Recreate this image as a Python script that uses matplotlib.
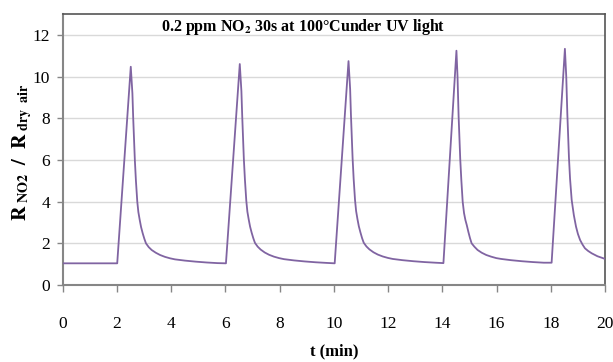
import matplotlib
matplotlib.use("Agg")
import matplotlib.pyplot as plt

plt.rcParams["font.family"] = ["Liberation Serif", "DejaVu Serif"]
plt.rcParams["mathtext.fontset"] = "stix"

# Five NO2 exposure cycles (gas on at ~2, 6, 10, 14, 18 min), then recovery in dry air
t_cycle1 = [0.00, 2.01, 2.51, 2.57, 2.60, 2.66, 2.70, 2.75, 2.79, 2.84, 2.89, 2.95, 3.01, 3.07,
            3.17, 3.28, 3.43, 3.59, 3.77, 3.96, 4.14, 4.51, 4.91, 5.31, 5.71]
r_cycle1 = [1.04, 1.04, 10.47, 9.20, 8.00, 6.00, 5.00, 4.00, 3.50, 3.12, 2.78, 2.48, 2.22, 2.00,
            1.82, 1.68, 1.55, 1.44, 1.35, 1.28, 1.23, 1.17, 1.12, 1.08, 1.05]

t_cycle2 = [6.02, 6.53, 6.59, 6.62, 6.68, 6.72, 6.77, 6.81, 6.86, 6.91, 6.97, 7.03, 7.09,
            7.19, 7.30, 7.45, 7.61, 7.79, 7.98, 8.16, 8.53, 8.93, 9.33, 9.73]
r_cycle2 = [1.04, 10.60, 9.30, 8.10, 6.05, 5.05, 4.05, 3.52, 3.14, 2.80, 2.50, 2.24, 2.02,
            1.84, 1.70, 1.56, 1.45, 1.36, 1.29, 1.24, 1.18, 1.13, 1.09, 1.06]

t_cycle3 = [10.03, 10.54, 10.60, 10.63, 10.69, 10.73, 10.78, 10.82, 10.87, 10.92, 10.98, 11.04, 11.10,
            11.20, 11.31, 11.46, 11.62, 11.80, 11.99, 12.17, 12.54, 12.94, 13.34, 13.74]
r_cycle3 = [1.04, 10.74, 9.40, 8.15, 6.10, 5.08, 4.08, 3.55, 3.16, 2.82, 2.52, 2.25, 2.03,
            1.85, 1.71, 1.57, 1.46, 1.37, 1.30, 1.25, 1.19, 1.14, 1.10, 1.07]

t_cycle4 = [14.04, 14.52, 14.56, 14.60, 14.66, 14.70, 14.75, 14.80, 14.85, 14.90, 14.96, 15.02, 15.08,
            15.18, 15.30, 15.45, 15.62, 15.80, 15.99, 16.17, 16.54, 16.94, 17.34, 17.74]
r_cycle4 = [1.05, 11.24, 10.00, 8.10, 6.05, 5.05, 4.00, 3.45, 3.12, 2.88, 2.55, 2.25, 2.00,
            1.84, 1.68, 1.55, 1.44, 1.36, 1.29, 1.25, 1.19, 1.14, 1.10, 1.07]

t_cycle5 = [18.03, 18.52, 18.57, 18.61, 18.67, 18.71, 18.77, 18.85, 18.93, 19.00, 19.08, 19.17,
            19.26, 19.38, 19.51, 19.72, 19.94, 20.00]
r_cycle5 = [1.07, 11.33, 10.00, 8.20, 6.10, 5.10, 4.08, 3.35, 2.80, 2.45, 2.16, 1.94,
            1.76, 1.63, 1.52, 1.38, 1.28, 1.25]

t_min = t_cycle1 + t_cycle2 + t_cycle3 + t_cycle4 + t_cycle5
r_ratio = r_cycle1 + r_cycle2 + r_cycle3 + r_cycle4 + r_cycle5

x_ticks = [0, 2, 4, 6, 8, 10, 12, 14, 16, 18, 20]
y_ticks = [0, 2, 4, 6, 8, 10, 12]

fig = plt.figure(figsize=(6.13, 3.62), dpi=100)
ax = fig.add_axes([0.1023, 0.2127, 0.8847, 0.7486])

ax.plot(t_min, r_ratio, color="#8064A2", lw=1.3, zorder=3)

ax.set_xlim(0, 20)
ax.set_ylim(0, 13)
ax.set_xticks(x_ticks)
ax.set_yticks(y_ticks)
ax.yaxis.grid(True, color="#d9d9d9", lw=1.0, zorder=0)
ax.set_axisbelow(True)

for side in ("left", "bottom"):
    ax.spines[side].set_color("#868686")
    ax.spines[side].set_linewidth(1.5)
for side in ("top", "right"):
    ax.spines[side].set_color("#555555")
    ax.spines[side].set_linewidth(1.2)

ax.tick_params(axis="x", direction="out", length=5, width=1, color="#868686",
               pad=17, labelsize=12.5)
ax.tick_params(axis="y", direction="out", length=4, width=1, color="#868686",
               pad=5, labelsize=12.5)

ax.text(0.444, 0.952, r"0.2 ppm NO$_\mathbf{2}$ 30s at 100°Cunder UV light",
        transform=ax.transAxes, ha="center", va="center",
        fontsize=11.5, fontweight="bold")

fig.text(0.5445, 0.03, "t (min)", ha="center", va="center",
         fontsize=12, fontweight="bold")
fig.text(0.036, 0.58,
         r"$\mathbf{R}_{\ \mathbf{NO2}}\ \ \mathbf{/}\ \ \mathbf{R}_{\ \mathbf{dry\ \ air}}$",
         rotation=90, ha="center", va="center", fontsize=14.5)

fig.savefig("out.png", dpi=100)
